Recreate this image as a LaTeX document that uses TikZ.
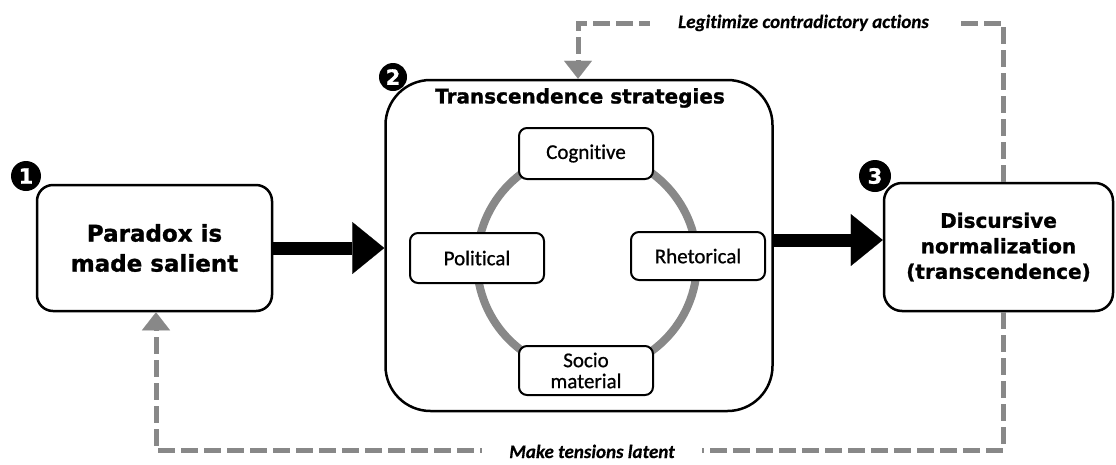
\documentclass[tikz,border=0pt]{standalone}
\usepackage{fontspec}
\setmainfont{DejaVu Sans}
\newfontfamily\heavy[FakeBold=1.2]{DejaVu Sans Bold}
\newfontfamily\calib[FakeBold=0.8,Ligatures=NoCommon]{Carlito}
\newfontfamily\calibbi[FakeBold=0.5,Ligatures=NoCommon]{Carlito Bold Italic}
\usetikzlibrary{arrows.meta,calc}
\definecolor{dgray}{HTML}{888888}
\begin{document}
\begin{tikzpicture}[x=1pt,y=-1pt,
  bigbox/.style={draw, line width=2.5pt, rounded corners=16pt, align=center, fill=white, inner sep=0pt},
  smallbox/.style={draw, line width=2pt, rounded corners=8pt, align=center, fill=white, inner sep=0pt,
     minimum width=134pt, font=\calib\fontsize{21}{21}\selectfont},
  badge/.style={circle, fill=black, text=white, inner sep=0pt, minimum size=30pt,
     font=\heavy\fontsize{21}{21}\selectfont},
  lab/.style={fill=white, inner sep=0pt, anchor=base, font=\calibbi\fontsize{19}{19}\selectfont},
  dashline/.style={draw=dgray, line width=5pt, dash pattern=on 17pt off 6pt},
  greytip/.style={-{Triangle[length=18pt,width=28pt,line width=0.1pt]}},
  bigarrow/.style={draw=black, line width=13pt, -{Triangle[length=32pt,width=52pt,line width=0.1pt]}}
]
\path[fill=white] (0,0) rectangle (1116,464);
\useasboundingbox (0,0) rectangle (1116,464);

% main boxes
\node[bigbox, minimum width=235pt, minimum height=126pt,
      font=\heavy\fontsize{23}{30}\selectfont] (box1) at (154.5,248) {Paradox is\\made salient};
\node[bigbox, minimum width=387pt, minimum height=331pt, rounded corners=45pt] (box2) at (579,245.5) {};
\node[bigbox, minimum width=229pt, minimum height=128pt, rounded corners=18pt,
      font=\heavy\fontsize{20}{25.5}\selectfont] (box3) at (998.5,247) {Discursive\\normalization\\(transcendence)};

\node[font=\heavy\fontsize{20}{20}\selectfont, inner sep=0pt] (title) at (580,98) {Transcendence strategies};

% ring
\draw[draw=dgray, line width=8pt] (587,262) circle[radius=110];

% strategies
\node[smallbox, minimum height=51pt] (cog) at (586,153.5) {Cognitive};
\node[smallbox, minimum height=50pt] (pol) at (477,258) {Political};
\node[smallbox, minimum height=48pt] (rhe) at (698,256) {Rhetorical};
\node[smallbox, minimum height=49pt] (soc) at (586,370.5) {Socio\\material};

% badges
\node[badge] (b1) at (26,176) {1};
\node[badge, minimum size=28pt] (b2) at (393,77) {2};
\node[badge, minimum size=32pt] (b3) at (875,176) {3};

% black arrows
\draw[bigarrow] (box1.east) -- (box1.east -| box2.west);
\draw[bigarrow] (box2.east |- 0,240) -- (box3.west |- 0,240);

% feedback dashed loops
\coordinate (tr) at (1003,23);
\coordinate (tl) at (578,23);
\draw[dashline, greytip] (box3.north -| tr) -- (tr) -- (tl) -- (box2.north -| tl);
\node[lab, minimum width=307pt] (ltop) at (803.5,28) {Legitimize contradictory actions};

\coordinate (br) at (1003,450);
\coordinate (bl) at (156,450);
\draw[dashline, greytip] (box3.south -| br) -- (br) -- (bl) -- (box1.south -| bl);
\node[lab, minimum width=220pt] (lbot) at (592,458) {Make tensions latent};
\end{tikzpicture}
\end{document}
